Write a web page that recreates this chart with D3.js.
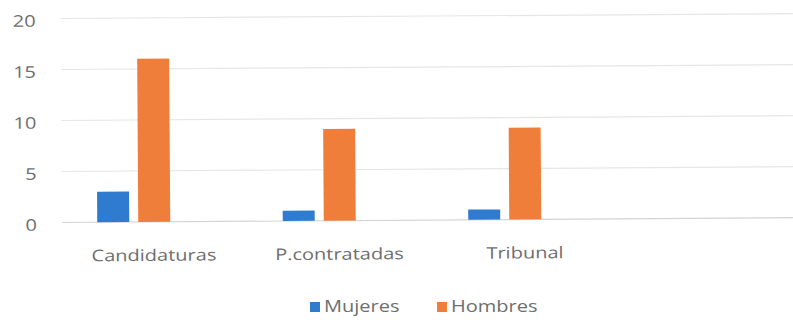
<!DOCTYPE html>
<html>
<head>
<meta charset="utf-8">
<script src="https://cdn.jsdelivr.net/npm/d3@7"></script>
<style>
  html, body { margin: 0; padding: 0; background: #fff; }
  svg { display: block; }
  text { font-family: "Open Sans", sans-serif; fill: #6e6e6e; }
</style>
</head>
<body>
<svg id="chart" width="793" height="320"></svg>
<script>
// Chart data
const categories = ["Candidaturas", "P.contratadas", "Tribunal"];
const seriesNames = ["Mujeres", "Hombres"];
const mujeres = [3, 1, 1];
const hombres = [16, 9, 9];
const yTicks = [0, 5, 10, 15, 20];

const colors = { Mujeres: "#2e7bd0", Hombres: "#ef7e3b" };
const W = 793, H = 320;
const stretch = 1.25; // wide lettering

const svg = d3.select("#chart");

const rows = categories.map((c, i) => ({ cat: c, Mujeres: mujeres[i], Hombres: hombres[i] }));

const x0 = d3.scaleBand().domain(categories).range([41, 597.5]).paddingInner(0).paddingOuter(0);
const x1 = d3.scaleBand().domain(seriesNames).range([0, 73]).paddingInner(0.22);
const y = d3.scaleLinear().domain([0, 20]).range([222.5, 18.5]);

// plot area is drawn slightly tilted
const plot = svg.append("g").attr("transform", "rotate(-0.38, 62, 222)");

// horizontal gridlines
plot.append("g").selectAll("line")
  .data(yTicks)
  .join("line")
  .attr("x1", 62).attr("x2", W + 10)
  .attr("y1", d => y(d)).attr("y2", d => y(d))
  .attr("stroke", d => d === 0 ? "#d4d4d4" : "#e6e6e6")
  .attr("stroke-width", 1.2);

// y tick labels
plot.append("g").selectAll("text")
  .data(yTicks)
  .join("text")
  .attr("transform", d => `translate(37,${y(d) + 8}) scale(${stretch},1)`)
  .attr("text-anchor", "end")
  .attr("font-size", 16)
  .text(d => d);

// bars
const groups = plot.append("g").selectAll("g")
  .data(rows)
  .join("g")
  .attr("transform", d => `translate(${x0(d.cat) + (x0.bandwidth() - 73) / 2},0)`);

groups.selectAll("rect")
  .data(d => seriesNames.map(s => ({ s, v: d[s] })))
  .join("rect")
  .attr("x", d => x1(d.s))
  .attr("width", x1.bandwidth())
  .attr("y", d => y(d.v))
  .attr("height", d => y(0) - y(d.v))
  .attr("fill", d => colors[d.s]);

// category labels
plot.append("g").selectAll("text")
  .data(categories)
  .join("text")
  .attr("transform", d => `translate(${x0(d) + x0.bandwidth() / 2 + 20},261.5) scale(${stretch},1)`)
  .attr("text-anchor", "middle")
  .attr("font-size", 16)
  .text(d => d);

// legend
const legendPos = { Mujeres: 310, Hombres: 437 };
const legend = svg.append("g").selectAll("g")
  .data(seriesNames)
  .join("g")
  .attr("transform", d => `translate(${legendPos[d]},0)`);

legend.append("rect")
  .attr("x", 0).attr("y", 302)
  .attr("width", 10).attr("height", 10)
  .attr("fill", d => colors[d]);

legend.append("text")
  .attr("transform", `translate(14,312) scale(${stretch},1)`)
  .attr("font-size", 16)
  .text(d => d);
</script>
</body>
</html>
